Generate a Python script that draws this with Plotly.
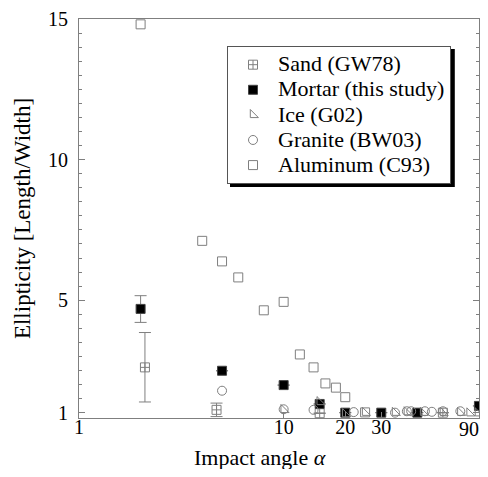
import plotly.graph_objects as go

# ---- data ----
sand_x = [2.1, 4.7, 15, 60]
sand_y = [2.61, 1.10, 0.98, 1.0]
sand_err_plus = [1.24, 0.24, 0, 0]
sand_err_minus = [1.23, 0.24, 0, 0]

mortar_x = [2, 5, 10, 15, 20, 30, 45, 90]
mortar_y = [4.69, 2.49, 1.98, 1.31, 1.0, 1.0, 1.0, 1.24]
mortar_err_plus = [0.47, 0, 0, 0, 0, 0, 0, 0]
mortar_err_minus = [0.48, 0, 0, 0, 0, 0, 0, 0]

ice_x = [10, 15, 20, 25, 35, 40, 48, 60, 73, 81, 89]
ice_y = [1.1, 1.38, 0.95, 1.0, 1.0, 1.02, 1.0, 1.0, 1.0, 0.98, 0.98]

granite_x = [5, 10, 14, 22, 35, 40, 42, 49, 53, 60, 73]
granite_y = [1.78, 1.12, 1.1, 1.02, 1.0, 1.05, 1.05, 1.05, 1.03, 1.05, 1.05]

alum_x = [2, 4, 5, 6, 8, 10, 12, 14, 16, 18, 20, 25]
alum_y = [14.81, 7.11, 6.38, 5.81, 4.64, 4.94, 3.07, 2.61, 2.04, 1.89, 1.55, 1.01]

x_tickvals = [1, 10, 20, 30, 90]
x_ticktext = ["1", "10", "20", "30", ""]   # "90" is drawn right-aligned below so it is not cut off
x_last_label = "90"
y_tickvals = [1, 5, 10, 15]

GRAY = "#7f7f7f"
FONT = "Liberation Serif, Times New Roman, serif"


def big(s):
    return '<span style="font-size:22px">' + s + '</span>'


fig = go.Figure()

fig.add_trace(go.Scatter(
    x=sand_x, y=sand_y, mode="markers", name=big("Sand (GW78)"),
    marker=dict(symbol="square-cross-open", size=9, color=GRAY, line=dict(width=1, color=GRAY)),
    error_y=dict(type="data", symmetric=False, array=sand_err_plus, arrayminus=sand_err_minus,
                 color=GRAY, thickness=1, width=6),
))
fig.add_trace(go.Scatter(
    x=mortar_x, y=mortar_y, mode="markers", name=big("Mortar (this study)"),
    marker=dict(symbol="square", size=9, color="black", line=dict(width=1, color="#444")),
    error_y=dict(type="data", symmetric=False, array=mortar_err_plus, arrayminus=mortar_err_minus,
                 color=GRAY, thickness=1, width=6),
))
fig.add_trace(go.Scatter(
    x=ice_x, y=ice_y, mode="markers", name=big("Ice (G02)"),
    marker=dict(symbol="triangle-sw-open", size=9, color=GRAY, line=dict(width=1, color=GRAY)),
))
fig.add_trace(go.Scatter(
    x=granite_x, y=granite_y, mode="markers", name=big("Granite (BW03)"),
    marker=dict(symbol="circle-open", size=9, color=GRAY, line=dict(width=1, color=GRAY)),
))
fig.add_trace(go.Scatter(
    x=alum_x, y=alum_y, mode="markers", name=big("Aluminum (C93)"),
    marker=dict(symbol="square-open", size=9, color=GRAY, line=dict(width=1, color=GRAY)),
))

# legend drop shadow
fig.add_shape(type="rect", xref="paper", yref="paper",
              x0=0.3775, x1=0.9395, y0=0.579, y1=0.9248,
              fillcolor="black", line=dict(width=0), layer="above")

# x-axis title (sits slightly left of the axis centre in the reference)
fig.add_annotation(text="Impact angle <i>α</i>", xref="paper", yref="paper",
                   x=0.4525, y=-0.099, xanchor="center", yanchor="middle",
                   showarrow=False, font=dict(family=FONT, size=22))

# last x tick label, right-aligned at the axis end
fig.add_annotation(text=x_last_label, xref="paper", yref="paper",
                   x=1.0, y=-0.028, xanchor="right", yanchor="middle", xshift=2,
                   showarrow=False, font=dict(family=FONT, size=20))

# the page body adds an 8px offset; size and margins compensate for it
fig.update_layout(
    width=480, height=461,
    margin=dict(l=71, r=9, t=11, b=51),
    paper_bgcolor="white", plot_bgcolor="white",
    font=dict(family=FONT, size=18, color="black"),
    showlegend=True,
    legend=dict(x=0.37, y=0.932, xanchor="left", yanchor="top",
                bgcolor="white", bordercolor="#555", borderwidth=1,
                font=dict(family=FONT, size=17), itemwidth=40,
                tracegroupgap=0),
    xaxis=dict(type="log", range=[0, 1.9546], tickvals=x_tickvals,
               ticktext=x_ticktext,
               ticks="inside", ticklen=6, tickcolor=GRAY,
               showline=True, linecolor=GRAY, linewidth=1, mirror=True,
               showgrid=False, zeroline=False, automargin=False,
               tickfont=dict(family=FONT, size=20), ticklabelstandoff=-9),
    yaxis=dict(range=[0.81, 15.0], tickvals=y_tickvals,
               ticks="inside", ticklen=6, tickcolor=GRAY,
               minor=dict(dtick=0.5, tick0=1, ticks="inside", ticklen=3, tickcolor=GRAY, showgrid=False),
               showline=True, linecolor=GRAY, linewidth=1, mirror="ticks",
               showgrid=False, zeroline=False, automargin=False,
               tickfont=dict(family=FONT, size=20), ticklabelstandoff=6,
               title=dict(text="Ellipticity [Length/Width]", font=dict(family=FONT, size=23), standoff=10)),
)

fig.write_html("out.html")
